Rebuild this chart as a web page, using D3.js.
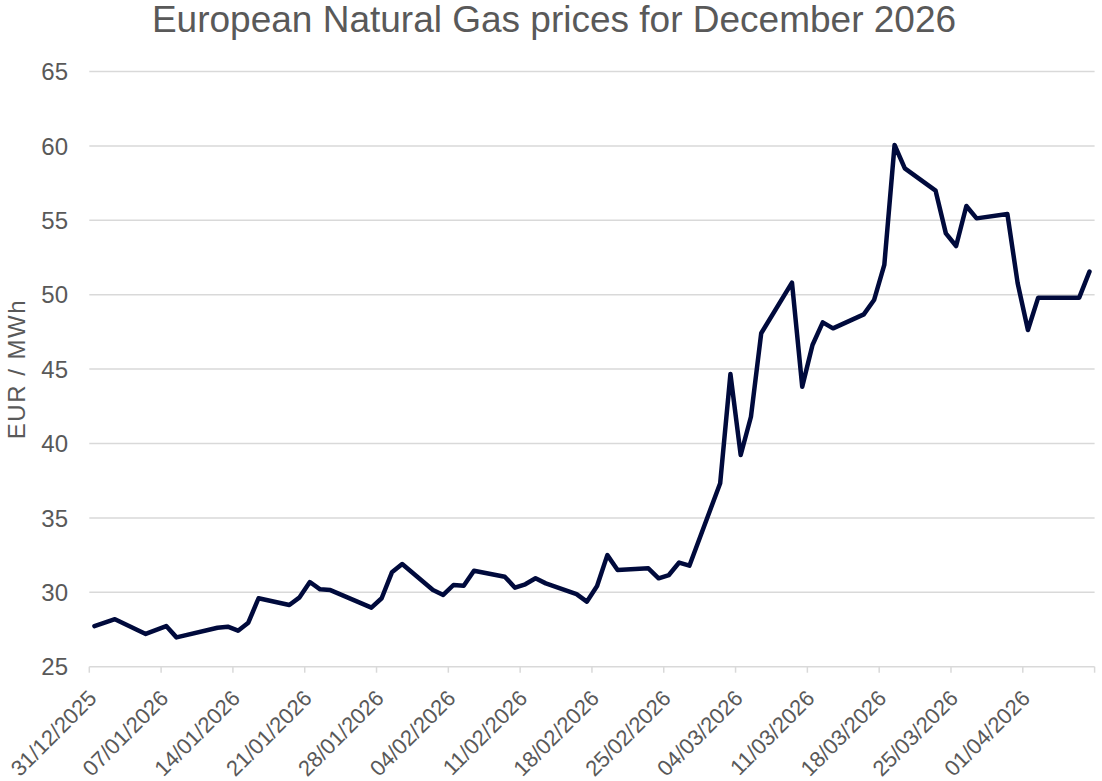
<!DOCTYPE html>
<html>
<head>
<meta charset="utf-8">
<script src="https://cdn.jsdelivr.net/npm/d3@7"></script>
<style>
  body { margin: 0; background: #fff; }
  text { font-family: Arial, "Liberation Sans", sans-serif; fill: #595959; }
</style>
</head>
<body>
<svg></svg>
<script>
var width = 1102, height = 781;
var margin = {top: 71.5, right: 7.4, bottom: 114.3, left: 89.3};

// daily settlement prices, EUR/MWh
var dates = ['31/12/2025','02/01/2026','05/01/2026','07/01/2026','08/01/2026','12/01/2026','13/01/2026','14/01/2026','15/01/2026','16/01/2026',
  '19/01/2026','20/01/2026','21/01/2026','22/01/2026','23/01/2026','27/01/2026','28/01/2026','29/01/2026','30/01/2026',
  '02/02/2026','03/02/2026','04/02/2026','05/02/2026','06/02/2026','09/02/2026','10/02/2026','11/02/2026','12/02/2026','13/02/2026',
  '16/02/2026','17/02/2026','18/02/2026','19/02/2026','20/02/2026','23/02/2026','24/02/2026','25/02/2026','26/02/2026','27/02/2026',
  '02/03/2026','03/03/2026','04/03/2026','05/03/2026','06/03/2026','09/03/2026','10/03/2026','11/03/2026','12/03/2026','13/03/2026',
  '16/03/2026','17/03/2026','18/03/2026','19/03/2026','20/03/2026','23/03/2026','24/03/2026','25/03/2026','26/03/2026','27/03/2026',
  '30/03/2026','31/03/2026','01/04/2026','02/04/2026','06/04/2026','07/04/2026'];
var prices = [27.73, 28.19, 27.2, 27.73, 26.97, 27.62, 27.69, 27.42, 27.96, 29.6,
  29.15, 29.66, 30.69, 30.2, 30.15, 28.97, 29.6, 31.34, 31.9,
  30.15, 29.82, 30.49, 30.44, 31.45, 31.05, 30.31, 30.54, 30.94, 30.6,
  29.88, 29.37, 30.42, 32.5, 31.5, 31.61, 30.94, 31.16, 32.0, 31.79,
  37.33, 44.67, 39.23, 41.8, 47.41, 50.81, 43.82, 46.62, 48.14, 47.74,
  48.68, 49.64, 52.0, 60.06, 58.49, 56.99, 54.12, 53.27, 55.96, 55.13,
  55.42, 50.77, 47.63, 49.8, 49.8, 51.55];
var yTicks = [25, 30, 35, 40, 45, 50, 55, 60, 65];

var parseDate = d3.timeParse('%d/%m/%Y');
var fmt = d3.timeFormat('%d/%m/%Y');

var data = dates.map((d, i) => ({date: parseDate(d), price: prices[i]}));

var start = parseDate('31/12/2025'), end = parseDate('08/04/2026');

var x = d3.scaleTime()
          .domain([start, end])
          .range([margin.left, width - margin.right]);

var y = d3.scaleLinear()
          .domain([25, 65])
          .range([height - margin.bottom, margin.top]);

var svg = d3.select('svg')
            .attr('width', width)
            .attr('height', height);

// gridlines
svg.append('g')
    .selectAll('line')
    .data(yTicks)
    .enter()
    .append('line')
        .attr('x1', margin.left)
        .attr('x2', width - margin.right)
        .attr('y1', d => y(d))
        .attr('y2', d => y(d))
        .attr('stroke', '#d9d9d9')
        .attr('stroke-width', 1.5);

// y labels
svg.append('g')
    .selectAll('text')
    .data(yTicks)
    .enter()
    .append('text')
        .attr('x', 68)
        .attr('y', d => y(d))
        .attr('dy', '0.36em')
        .attr('text-anchor', 'end')
        .style('font-size', '24px')
        .text(d => d);

// x axis ticks every 7 days
var xTicks = d3.range(0, 99, 7).map(n => d3.timeDay.offset(start, n));

svg.append('g')
    .selectAll('line')
    .data(xTicks)
    .enter()
    .append('line')
        .attr('x1', d => x(d))
        .attr('x2', d => x(d))
        .attr('y1', y(25))
        .attr('y2', y(25) + 6)
        .attr('stroke', '#d9d9d9')
        .attr('stroke-width', 1.5);

svg.append('g')
    .selectAll('text')
    .data(xTicks.filter(d => d < end))
    .enter()
    .append('text')
        .attr('transform', d => `translate(${x(d) + 8.5},${y(25) + 33}) rotate(-45)`)
        .attr('text-anchor', 'end')
        .style('font-size', '22px')
        .text(d => fmt(d));

// price line (points sit mid-day)
var line = d3.line()
             .x(d => x(d3.timeHour.offset(d.date, 12)))
             .y(d => y(d.price));

svg.append('path')
    .datum(data)
    .attr('d', line)
    .attr('fill', 'none')
    .attr('stroke', '#000a3c')
    .attr('stroke-width', 4.5)
    .attr('stroke-linejoin', 'round')
    .attr('stroke-linecap', 'round');

svg.append('text')
    .attr('x', width / 2 + 3)
    .attr('y', 32)
    .attr('text-anchor', 'middle')
    .style('font-size', '37px')
    .text('European Natural Gas prices for December 2026');

svg.append('text')
    .attr('transform', `translate(25,${(y(25) + y(65)) / 2}) rotate(-90)`)
    .attr('text-anchor', 'middle')
    .style('font-size', '24px')
    .style('letter-spacing', '1.5px')
    .text('EUR / MWh');
</script>
</body>
</html>
